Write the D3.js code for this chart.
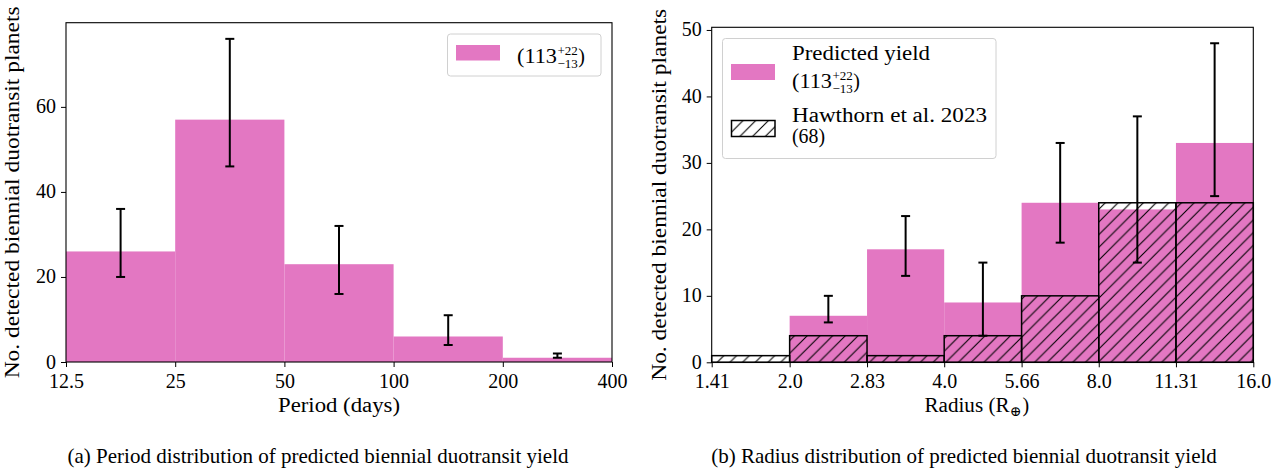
<!DOCTYPE html>
<html>
<head>
<meta charset="utf-8">
<script src="https://cdn.jsdelivr.net/npm/d3@7"></script>
<style>
  body { margin: 0; background: #fff; }
  svg { display: block; }
  text { font-family: "Liberation Serif", "DejaVu Serif", serif; fill: #000; }
</style>
</head>
<body>
<svg id="fig" width="1285" height="473"></svg>
<script>
// Period histogram (panel a)
const periodEdges = [12.5, 25, 50, 100, 200, 400];
const periodCounts = [26, 57, 23, 6, 1];
const periodLow = [20, 46, 16, 4, 1];
const periodHigh = [36, 76, 32, 11, 2];
const periodTickLabels = ["12.5", "25", "50", "100", "200", "400"];
const periodYTicks = [0, 20, 40, 60];

// Radius histogram (panel b)
const radiusEdges = [1.41, 2.0, 2.83, 4.0, 5.66, 8.0, 11.31, 16.0];
const radiusCounts = [0, 7, 17, 9, 24, 23, 33];
const radiusLow = [null, 6, 13, 4, 18, 15, 25];
const radiusHigh = [null, 10, 22, 15, 33, 37, 48];
const hawthornCounts = [1, 4, 1, 4, 10, 24, 24];
const radiusTickLabels = ["1.41", "2.0", "2.83", "4.0", "5.66", "8.0", "11.31", "16.0"];
const radiusYTicks = [0, 10, 20, 30, 40, 50];

const PINK = "#e377c2";
const FS = 20;

const svg = d3.select("#fig");

// widen a text run to a given length (the serif face is narrower than the target look)
function fit(sel, len) {
  return sel.attr("textLength", len).attr("lengthAdjust", "spacingAndGlyphs");
}

// diagonal hatch used for the Hawthorn et al. bars
const H = 12.7;
svg.append("defs").append("pattern")
  .attr("id", "hatch")
  .attr("patternUnits", "userSpaceOnUse")
  .attr("width", H).attr("height", H)
  .append("path")
  .attr("d", `M0,${H} L${H},0 M${-H / 2},${H / 2} L${H / 2},${-H / 2} M${H / 2},${H * 1.5} L${H * 1.5},${H / 2}`)
  .attr("stroke", "#000").attr("stroke-width", 1.1).attr("fill", "none");

// (113^{+22}_{-13}) label with stacked super/subscript
function yieldLabel(g, x, y) {
  fit(g.append("text").attr("x", x).attr("y", y).style("font-size", FS + "px").text("(113"), 40);
  const sx = x + 40.5;
  const sup = g.append("text").attr("x", sx).attr("y", y - 8.5).style("font-size", "13px").text("+22");
  const sub = g.append("text").attr("x", sx).attr("y", y + 5).style("font-size", "13px").text("\u221213");
  const w2 = Math.max(sup.node().getComputedTextLength(), sub.node().getComputedTextLength());
  g.append("text").attr("x", sx + w2 + 0.5).attr("y", y).style("font-size", FS + "px").text(")");
}

function drawPanel(box, edges, tickLabels, yTicks, ymax) {
  const x = d3.scaleLog().domain([edges[0], edges[edges.length - 1]]).range([box.x0, box.x1]);
  const y = d3.scaleLinear().domain([0, ymax]).range([box.y1, box.y0]);
  const g = svg.append("g");
  const marks = g.append("g");

  const xAxis = d3.axisBottom(x).tickValues(edges)
    .tickFormat((d, i) => tickLabels[i]).tickSize(5).tickPadding(5);
  const gx = g.append("g").attr("transform", `translate(0,${box.y1})`).call(xAxis);
  const yAxis = d3.axisLeft(y).tickValues(yTicks).tickSize(5).tickPadding(5);
  const gy = g.append("g").attr("transform", `translate(${box.x0},0)`).call(yAxis);
  [gx, gy].forEach(a => {
    a.attr("font-family", null);
    a.select(".domain").remove();
    a.selectAll(".tick line").attr("stroke", "#000").attr("stroke-width", 1);
    a.selectAll(".tick text").style("font-size", FS + "px");
  });
  gx.selectAll(".tick text").attr("dy", "0.78em");
  gy.selectAll(".tick text").attr("dy", "0.3em");
  return { x, y, g, marks };
}

function frame(p, box) {
  p.g.append("rect")
    .attr("x", box.x0).attr("y", box.y0)
    .attr("width", box.x1 - box.x0).attr("height", box.y1 - box.y0)
    .attr("fill", "none").attr("stroke", "#000").attr("stroke-width", 1.1);
}

function errorBars(p, edges, low, high) {
  const eg = p.g.append("g");
  low.forEach((lo, i) => {
    if (lo === null) return;
    const cx = p.x(Math.sqrt(edges[i] * edges[i + 1]));
    const y1 = p.y(lo), y2 = p.y(high[i]);
    eg.append("line").attr("x1", cx).attr("x2", cx).attr("y1", y1).attr("y2", y2)
      .attr("stroke", "#000").attr("stroke-width", 2);
    [y1, y2].forEach(yy => eg.append("line")
      .attr("x1", cx - 4.5).attr("x2", cx + 4.5).attr("y1", yy).attr("y2", yy)
      .attr("stroke", "#000").attr("stroke-width", 2));
  });
}

// ---------- panel (a): period ----------
const boxA = { x0: 66, x1: 612, y0: 22.7, y1: 362 };
const pa = drawPanel(boxA, periodEdges, periodTickLabels, periodYTicks, d3.max(periodHigh) * 1.05);
pa.marks.selectAll("rect").data(periodCounts).join("rect")
  .attr("x", (d, i) => pa.x(periodEdges[i]))
  .attr("width", (d, i) => pa.x(periodEdges[i + 1]) - pa.x(periodEdges[i]))
  .attr("y", d => pa.y(d))
  .attr("height", d => pa.y(0) - pa.y(d))
  .attr("fill", PINK);
errorBars(pa, periodEdges, periodLow, periodHigh);
frame(pa, boxA);

fit(svg.append("text").attr("x", (boxA.x0 + boxA.x1) / 2).attr("y", 412)
  .attr("text-anchor", "middle").style("font-size", FS + "px").text("Period (days)"), 122);
fit(svg.append("text").attr("transform", `translate(18.5,${(boxA.y0 + boxA.y1) / 2}) rotate(-90)`)
  .attr("text-anchor", "middle").style("font-size", FS + "px")
  .text("No. detected biennial duotransit planets"), 372);

// legend (a)
const legA = svg.append("g");
legA.append("rect").attr("x", 447.5).attr("y", 34).attr("width", 153.5).attr("height", 42)
  .attr("rx", 3).attr("fill", "#fff").attr("fill-opacity", 0.8).attr("stroke", "#d0d0d0");
legA.append("rect").attr("x", 456).attr("y", 45).attr("width", 44).attr("height", 15.5).attr("fill", PINK);
yieldLabel(legA, 517, 63);

// ---------- panel (b): radius ----------
const boxB = { x0: 711.7, x1: 1253.3, y0: 27.3, y1: 362.3 };
const pb = drawPanel(boxB, radiusEdges, radiusTickLabels, radiusYTicks, d3.max(radiusHigh) * 1.05);
pb.marks.append("g").selectAll("rect").data(radiusCounts).join("rect")
  .attr("x", (d, i) => pb.x(radiusEdges[i]))
  .attr("width", (d, i) => pb.x(radiusEdges[i + 1]) - pb.x(radiusEdges[i]))
  .attr("y", d => pb.y(d))
  .attr("height", d => pb.y(0) - pb.y(d))
  .attr("fill", PINK);
pb.marks.append("g").selectAll("rect").data(hawthornCounts).join("rect")
  .attr("x", (d, i) => pb.x(radiusEdges[i]))
  .attr("width", (d, i) => pb.x(radiusEdges[i + 1]) - pb.x(radiusEdges[i]))
  .attr("y", d => pb.y(d))
  .attr("height", d => pb.y(0) - pb.y(d))
  .attr("fill", "url(#hatch)")
  .attr("stroke", "#000").attr("stroke-width", 1.5);
errorBars(pb, radiusEdges, radiusLow, radiusHigh);
frame(pb, boxB);

// x label: Radius (R_⊕)
const rx = (boxB.x0 + boxB.x1) / 2 - 58;
fit(svg.append("text").attr("x", rx).attr("y", 412).style("font-size", FS + "px").text("Radius (R"), 85);
svg.append("text").attr("x", rx + 85.5).attr("y", 416).style("font-size", "14px").text("\u2295");
svg.append("text").attr("x", rx + 98).attr("y", 412).style("font-size", FS + "px").text(")");
fit(svg.append("text").attr("transform", `translate(666,${(boxB.y0 + boxB.y1) / 2}) rotate(-90)`)
  .attr("text-anchor", "middle").style("font-size", FS + "px")
  .text("No. detected biennial duotransit planets"), 372);

// legend (b)
const legB = svg.append("g");
legB.append("rect").attr("x", 722.5).attr("y", 38.5).attr("width", 273.5).attr("height", 120)
  .attr("rx", 3).attr("fill", "#fff").attr("fill-opacity", 0.8).attr("stroke", "#d0d0d0");
legB.append("rect").attr("x", 731).attr("y", 64).attr("width", 44).attr("height", 16).attr("fill", PINK);
fit(legB.append("text").attr("x", 792).attr("y", 60).style("font-size", FS + "px").text("Predicted yield"), 138);
yieldLabel(legB, 792, 88);
legB.append("rect").attr("x", 731.5).attr("y", 120.5).attr("width", 43.5).attr("height", 16)
  .attr("fill", "url(#hatch)").attr("stroke", "#000").attr("stroke-width", 1.5);
fit(legB.append("text").attr("x", 792).attr("y", 121.5).style("font-size", FS + "px").text("Hawthorn et al. 2023"), 195);
fit(legB.append("text").attr("x", 792).attr("y", 142.5).style("font-size", FS + "px").text("(68)"), 33);

// captions
svg.append("text").attr("x", 318).attr("y", 463).attr("text-anchor", "middle")
  .style("font-size", "21px").text("(a) Period distribution of predicted biennial duotransit yield");
svg.append("text").attr("x", 964).attr("y", 463).attr("text-anchor", "middle")
  .style("font-size", "21px").text("(b) Radius distribution of predicted biennial duotransit yield");
</script>
</body>
</html>
